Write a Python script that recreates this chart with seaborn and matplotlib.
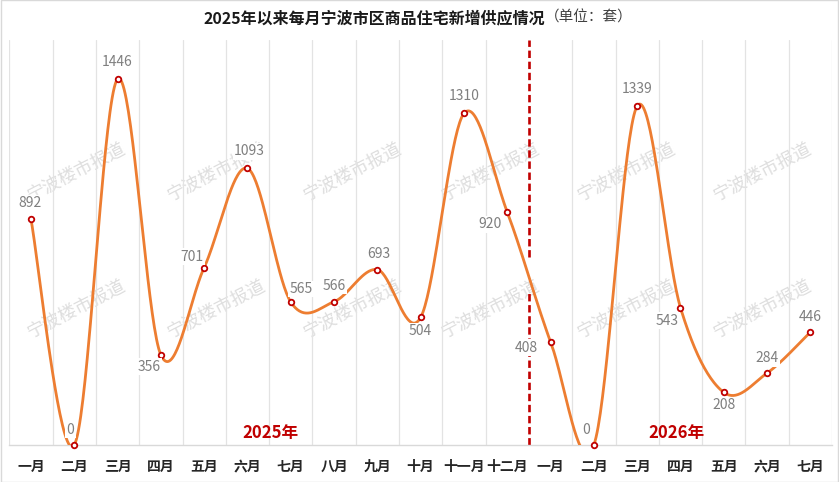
import numpy as np
import pandas as pd
import seaborn as sns
import matplotlib.pyplot as plt
from matplotlib.patches import Rectangle

# -----------------------------------------------------------------------------
# Data
# -----------------------------------------------------------------------------

months = ["一月", "二月", "三月", "四月", "五月", "六月", "七月", "八月", "九月",
          "十月", "十一月", "十二月",
          "一月", "二月", "三月", "四月", "五月", "六月", "七月"]
supply = [892, 0, 1446, 356, 701, 1093, 565, 566, 693, 504, 1310, 920,
          408, 0, 1339, 543, 208, 284, 446]
years = ["2025年", "2026年"]

# label offsets in pixels (dx, dy) from each point
label_offsets = [(-1, 16), (-4, 15), (0, 17), (-12, -12), (-12, 11), (2, 17),
                 (10, 13), (0, 16), (1, 16), (0, -14), (0, 17), (-17, -12),
                 (-24, -6), (-8, 15), (0, 17), (-13, -13), (0, -13), (0, 15),
                 (0, 15)]

LINE = "#ED7D31"
RED = "#C00000"
GRID = "#e3e3e3"


def smooth_curve(xs, ys, n=40):
    # bezier smoothing through the points, like office "smoothed line"
    pts = np.column_stack([xs, ys]).astype(float)
    padded = np.vstack([pts[0], pts, pts[-1]])
    out = []
    t = np.linspace(0, 1, n, endpoint=False)[:, None]
    for i in range(len(pts) - 1):
        p0, p1, p2, p3 = padded[i:i + 4]
        c1 = p1 + (p2 - p0) / 6
        c2 = p2 - (p3 - p1) / 6
        seg = ((1 - t) ** 3 * p1 + 3 * (1 - t) ** 2 * t * c1
               + 3 * (1 - t) * t ** 2 * c2 + t ** 3 * p2)
        out.append(seg)
    out.append(pts[-1:])
    return np.vstack(out)


sns.set_theme(style="white")
plt.rcParams["font.family"] = ["Noto Sans CJK SC", "DejaVu Sans"]

fig = plt.figure(figsize=(8.39, 4.82), dpi=100)
ax = fig.add_axes([9.3 / 839, 37 / 482, 822.7 / 839, 405 / 482])

idx = np.arange(len(supply))
df = pd.DataFrame({"x": idx, "value": supply})
curve = smooth_curve(idx, supply)
cdf = pd.DataFrame({"x": curve[:, 0], "y": curve[:, 1]})

# vertical grid at category boundaries (not at the year split)
n = len(months)
for b in np.arange(-0.5, n, 1.0):
    if abs(b - 11.5) < 1e-6:
        continue
    ax.axvline(b, color=GRID, lw=0.9, zorder=0)

# year split
ax.axvline(11.5, ymin=0.464, ymax=1.0, color=RED, lw=1.9,
           ls=(0, (2.8, 1.4)), zorder=1)
ax.axvline(11.5, ymin=0.0, ymax=0.375, color=RED, lw=1.9,
           ls=(0, (2.8, 1.4)), zorder=1)

# watermarks, under the axes
wm_x = [77, 217, 353, 491, 627, 763]
wm_y = [173, 310]
for wy in wm_y:
    for wx in wm_x:
        fig.text(wx / 839, 1 - wy / 482, "宁波楼市报道", fontsize=13,
                 color="#dedede", rotation=27, ha="center", va="center",
                 rotation_mode="anchor", zorder=-1)

sns.lineplot(data=cdf, x="x", y="y", sort=False, estimator=None,
             color=LINE, lw=2, ax=ax, zorder=3)
sns.scatterplot(data=df, x="x", y="value", marker="o", s=16,
                facecolor="white", edgecolor=RED, linewidth=1.3,
                ax=ax, zorder=4, clip_on=False)

for i, v in enumerate(supply):
    dx, dy = label_offsets[i]
    ax.annotate(str(v), (i, v), xytext=(dx, dy), textcoords="offset pixels",
                ha="center", va="center", fontsize=10, color="#7f7f7f",
                zorder=5,
                bbox=dict(boxstyle="square,pad=0.1", fc="white", ec="none"))

ax.text(5.52, 47, years[0], fontsize=12, fontweight="bold", color=RED,
        ha="center", va="center", zorder=5)
ax.text(14.9, 47, years[1], fontsize=12, fontweight="bold", color=RED,
        ha="center", va="center", zorder=5)

ax.set_xlim(-0.5, n - 0.5)
ax.set_ylim(0, 1600)
ax.set_xticks(idx)
ax.set_xticklabels(months, fontsize=10, fontweight="bold", color="#262626")
ax.set_yticks([])
ax.tick_params(axis="x", length=0, pad=11)
ax.set_xlabel("")
ax.set_ylabel("")
for side in ["top", "left", "right"]:
    ax.spines[side].set_visible(False)
ax.spines["bottom"].set_color("#d9d9d9")
ax.spines["bottom"].set_linewidth(1)
ax.patch.set_alpha(0)

# title
fig.text(545 / 839, 1 - 18 / 482, "2025年以来每月宁波市区商品住宅新增供应情况",
         fontsize=11.5, fontweight="bold", color="#1a1a1a",
         ha="right", va="center")
fig.text(545 / 839, 1 - 18 / 482, "（单位：套）", fontsize=10.5,
         color="#404040", ha="left", va="center")

fig.patches.append(Rectangle((0.001, 0.001), 0.998, 0.998,
                             transform=fig.transFigure, fill=False,
                             edgecolor="#d9d9d9", lw=1))

fig.savefig("out.png", dpi=100)
